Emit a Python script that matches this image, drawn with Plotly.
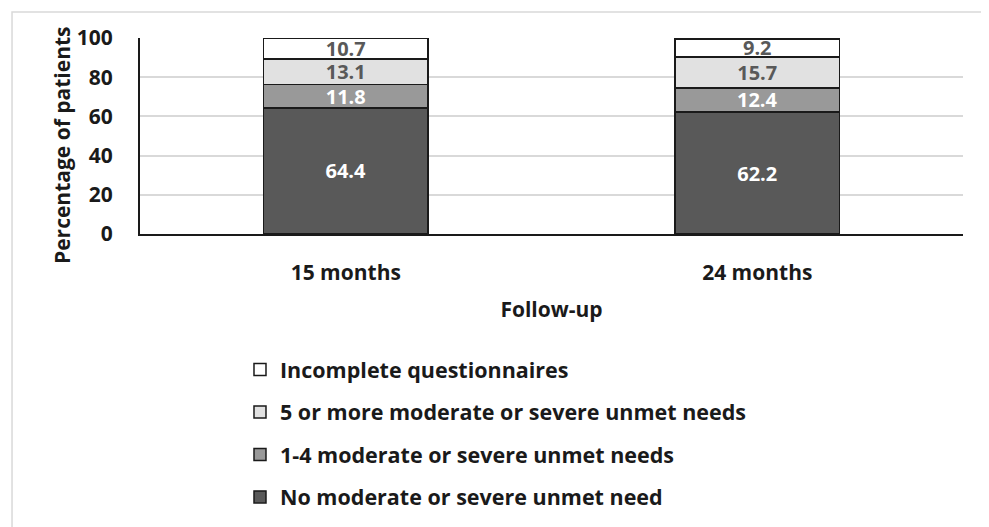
import plotly.graph_objects as go

categories = ["15 months", "24 months"]
series_names = [
    "No moderate or severe unmet need",
    "1-4 moderate or severe unmet needs",
    "5 or more moderate or severe unmet needs",
    "Incomplete questionnaires",
]
no_need = [64.4, 62.2]
one_to_four = [11.8, 12.4]
five_plus = [13.1, 15.7]
incomplete = [10.7, 9.2]
y_ticks = [0, 20, 40, 60, 80, 100]

series_values = [no_need, one_to_four, five_plus, incomplete]
fill_colors = ["#595959", "#999999", "#e1e1e1", "#ffffff"]
text_colors = ["#ffffff", "#ffffff", "#595959", "#595959"]
legend_ranks = [4, 3, 2, 1]

FONT = "Open Sans"
FS = 21
LABEL_FS = 20
INK = "#1a1a1a"

fig = go.Figure()
for i, (name, vals) in enumerate(zip(series_names, series_values)):
    fig.add_trace(go.Bar(
        x=categories, y=vals, name=name,
        legendgroup=f"g{i}", legendrank=legend_ranks[i],
        marker=dict(color=fill_colors[i], line=dict(color=INK, width=1.5)),
        text=[f"{v:.1f}" for v in vals],
        textposition="inside", insidetextanchor="middle", textangle=0,
        textfont=dict(family=FONT, size=LABEL_FS, color=text_colors[i], weight="bold"),
        hoverinfo="skip",
    ))

fig.update_layout(
    width=989, height=527,
    barmode="stack", bargap=0.6,
    plot_bgcolor="white", paper_bgcolor="white",
    margin=dict(l=132, r=34, t=30, b=301),
    font=dict(family=FONT, size=FS, color=INK),
    uniformtext=dict(minsize=LABEL_FS, mode="show"),
    showlegend=True,
    legend=dict(
        orientation="v", traceorder="grouped", tracegroupgap=11.5,
        x=0.1215, y=-0.587, xanchor="left", yanchor="top",
        font=dict(family=FONT, size=FS + 0.5, color=INK, weight="bold"),
        bgcolor="rgba(0,0,0,0)",
    ),
    shapes=[dict(type="rect", xref="paper", yref="paper",
                 x0=-0.1555, x1=1.028, y0=-1.6, y1=1.1327,
                 line=dict(color="#d9d9d9", width=1.5), fillcolor="rgba(0,0,0,0)", layer="below")],
    annotations=[dict(text="Percentage of patients", textangle=-90,
                      xref="paper", yref="paper", x=-0.0948, y=0.454,
                      xanchor="center", yanchor="middle", showarrow=False,
                      font=dict(family=FONT, size=FS, color=INK, weight="bold"))],
)
fig.update_yaxes(
    range=[0, 100], tickvals=y_ticks,
    showgrid=True, gridcolor="#d9d9d9", gridwidth=1.5,
    showline=True, linecolor=INK, linewidth=2,
    ticks="outside", ticklen=21, tickcolor="rgba(0,0,0,0)",
    tickfont=dict(family=FONT, size=FS, color=INK, weight="bold"),
    zeroline=False,
)
fig.update_xaxes(
    showline=True, linecolor=INK, linewidth=2,
    ticks="outside", ticklen=19, tickcolor="rgba(0,0,0,0)",
    tickfont=dict(family=FONT, size=FS, color=INK, weight="bold"),
    title=dict(text="Follow-up", standoff=17,
               font=dict(family=FONT, size=FS, color=INK, weight="bold")),
)

fig.write_html("out.html")
